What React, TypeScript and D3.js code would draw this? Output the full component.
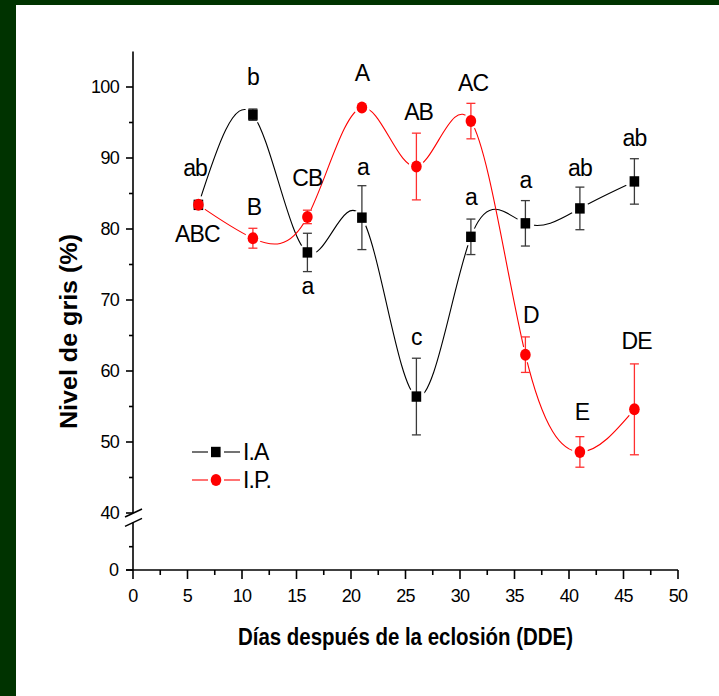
import React from 'react'
import * as d3 from 'd3'

// Días después de la eclosión
const days = [6, 11, 16, 21, 26, 31, 36, 41, 46]

// I.A (black squares)
const iaMean = [83.4, 96.1, 76.7, 81.6, 56.4, 78.9, 80.8, 82.9, 86.7]
const iaErr = [0.4, 0.8, 2.7, 4.5, 5.4, 2.5, 3.2, 3.0, 3.2]
const iaLetters = ['ab', 'b', 'a', 'a', 'c', 'a', 'a', 'ab', 'ab']
const iaLetterDay = [5.7, 11, 16, 21.1, 26, 31, 36, 41, 46]
const iaLetterVal = [88.6, 101.5, 72.0, 88.8, 64.8, 84.5, 86.9, 88.6, 92.8]

// I.P. (red circles)
const ipMean = [83.4, 78.7, 81.7, 97.1, 88.8, 95.2, 62.3, 48.6, 54.6]
const ipErr = [0.4, 1.4, 0.95, 0.3, 4.7, 2.5, 2.5, 2.15, 6.4]
const ipLetters = ['ABC', 'B', 'CB', 'A', 'AB', 'AC', 'D', 'E', 'DE']
const ipLetterDay = [5.9, 11.1, 16, 21, 26.2, 31.2, 36.5, 41.2, 46.2]
const ipLetterVal = [79.4, 83.2, 87.2, 102.0, 96.5, 100.6, 67.9, 54.2, 64.2]

const xMajor = [0, 5, 10, 15, 20, 25, 30, 35, 40, 45, 50]
const xMinor = [2.5, 7.5, 12.5, 17.5, 22.5, 27.5, 32.5, 37.5, 42.5, 47.5]
const yMajorUpper = [40, 50, 60, 70, 80, 90, 100]
const yMinorUpper = [45, 55, 65, 75, 85, 95]
const yMajorLower = [0]
const yMinorLower = [20]

const FONT = '"Liberation Sans", Arial, Helvetica, sans-serif'

const x = d3.scaleLinear().domain([0, 50]).range([133, 678])
const yUp = d3.scaleLinear().domain([40, 100]).range([513, 87])
const yLow = d3.scaleLinear().domain([0, 40]).range([570, 523.4])

const curve = d3
  .line<[number, number]>()
  .x((d) => x(d[0]))
  .y((d) => yUp(d[1]))
  .curve(d3.curveNatural)

const Series = ({ id, mean, err, color, barColor, gap, square }) => {
  const pts: [number, number][] = days.map((d, i) => [d, mean[i]])
  return (
    <g>
      <mask id={id} maskUnits="userSpaceOnUse" x={0} y={0} width={719} height={696}>
        <rect x={0} y={0} width={719} height={696} fill="#fff" />
        {pts.map((p, i) => (
          <circle key={i} cx={x(p[0])} cy={yUp(p[1])} r={gap} fill="#000" />
        ))}
      </mask>
      <path d={curve(pts) || ''} fill="none" stroke={color} strokeWidth={1.1} mask={`url(#${id})`} />
      {pts.map((p, i) => {
        const cx = x(p[0])
        const top = yUp(p[1] + err[i])
        const bot = yUp(p[1] - err[i])
        return (
          <g key={i} stroke={barColor} strokeWidth={1.3}>
            <line x1={cx} x2={cx} y1={top} y2={bot} />
            <line x1={cx - 4.5} x2={cx + 4.5} y1={top} y2={top} />
            <line x1={cx - 4.5} x2={cx + 4.5} y1={bot} y2={bot} />
          </g>
        )
      })}
      {pts.map((p, i) =>
        square ? (
          <rect key={i} x={x(p[0]) - 4.8} y={yUp(p[1]) - 5.2} width={9.6} height={10.4} fill={color} />
        ) : (
          <ellipse key={i} cx={x(p[0])} cy={yUp(p[1])} rx={5.3} ry={6} fill={color} />
        )
      )}
    </g>
  )
}

const Letters = ({ letters, dayPos, vals }) => (
  <g fontFamily={FONT} fontSize={23} textAnchor="middle" fill="#000">
    {letters.map((t, i) => (
      <text key={i} x={x(dayPos[i])} y={yUp(vals[i])} dy="0.36em" letterSpacing={-0.9}>
        {t}
      </text>
    ))}
  </g>
)

export default function App() {
  const axisX = x(0)
  return (
    <div style={{ position: 'fixed', left: 0, top: 0 }}>
      <svg width={719} height={696} style={{ display: 'block', background: '#fff' }}>
        {/* frame */}
        <rect x={0} y={0} width={16} height={696} fill="#003300" />
        <rect x={0} y={0} width={719} height={5} fill="#003300" />

        {/* y axis with break */}
        <g stroke="#000" strokeWidth={1.6}>
          <line x1={axisX} x2={axisX} y1={yUp(105)} y2={yUp(40)} />
          <line x1={axisX} x2={axisX} y1={yLow(40) - 1} y2={yLow(0)} />
          <line x1={axisX - 8} x2={axisX + 9} y1={yUp(40) + 4} y2={yUp(40) - 4} />
          <line x1={axisX - 8} x2={axisX + 9} y1={yLow(40) + 3} y2={yLow(40) - 5} />
          {yMajorUpper.map((v) => (
            <line key={v} x1={axisX - 7} x2={axisX} y1={yUp(v)} y2={yUp(v)} />
          ))}
          {yMinorUpper.map((v) => (
            <line key={v} x1={axisX - 4} x2={axisX} y1={yUp(v)} y2={yUp(v)} />
          ))}
          {yMajorLower.map((v) => (
            <line key={v} x1={axisX - 7} x2={axisX} y1={yLow(v)} y2={yLow(v)} />
          ))}
          {yMinorLower.map((v) => (
            <line key={v} x1={axisX - 4} x2={axisX} y1={yLow(v)} y2={yLow(v)} />
          ))}
        </g>
        <g fontFamily={FONT} fontSize={18} textAnchor="end" fill="#000">
          {yMajorUpper.map((v) => (
            <text key={v} x={axisX - 14} y={yUp(v)} dy="0.36em" letterSpacing={-0.7}>
              {v}
            </text>
          ))}
          {yMajorLower.map((v) => (
            <text key={v} x={axisX - 14} y={yLow(v)} dy="0.36em">
              {v}
            </text>
          ))}
        </g>

        {/* x axis */}
        <g stroke="#000" strokeWidth={1.6}>
          <line x1={x(0) - 7} x2={x(50)} y1={yLow(0)} y2={yLow(0)} />
          {xMajor.map((v) => (
            <line key={v} x1={x(v)} x2={x(v)} y1={yLow(0)} y2={yLow(0) + 9} />
          ))}
          {xMinor.map((v) => (
            <line key={v} x1={x(v)} x2={x(v)} y1={yLow(0)} y2={yLow(0) + 5} />
          ))}
        </g>
        <g fontFamily={FONT} fontSize={18} textAnchor="middle" fill="#000">
          {xMajor.map((v) => (
            <text key={v} x={x(v)} y={602} letterSpacing={-0.7}>
              {v}
            </text>
          ))}
        </g>

        {/* axis titles */}
        <text
          x={(x(0) + x(50)) / 2}
          y={645}
          fontFamily={FONT}
          fontSize={23}
          fontWeight="bold"
          textAnchor="middle"
          textLength={335}
          lengthAdjust="spacingAndGlyphs"
        >
          Días después de la eclosión (DDE)
        </text>
        <text
          transform={`translate(77, ${(233 + 430) / 2}) rotate(-90)`}
          fontFamily={FONT}
          fontSize={23}
          fontWeight="bold"
          textAnchor="middle"
          textLength={195}
          lengthAdjust="spacingAndGlyphs"
        >
          Nivel de gris (%)
        </text>

        {/* series */}
        <Series id="mia" mean={iaMean} err={iaErr} color="#000" barColor="#3a3a3a" gap={9} square />
        <Series id="mip" mean={ipMean} err={ipErr} color="#ff0000" barColor="#ff3030" gap={8} square={false} />

        <Letters letters={iaLetters} dayPos={iaLetterDay} vals={iaLetterVal} />
        <Letters letters={ipLetters} dayPos={ipLetterDay} vals={ipLetterVal} />

        {/* legend */}
        <g>
          <line x1={192} x2={208} y1={452} y2={452} stroke="#000" strokeWidth={1.1} />
          <line x1={224} x2={240} y1={452} y2={452} stroke="#000" strokeWidth={1.1} />
          <rect x={211} y={446.8} width={9.6} height={10.4} fill="#000" />
          <line x1={192} x2={208} y1={480} y2={480} stroke="#ff0000" strokeWidth={1.1} />
          <line x1={224} x2={240} y1={480} y2={480} stroke="#ff0000" strokeWidth={1.1} />
          <ellipse cx={216} cy={480} rx={5.3} ry={6} fill="#ff0000" />
          <g fontFamily={FONT} fontSize={23} fill="#000" letterSpacing={-0.9}>
            <text x={243} y={452} dy="0.36em">I.A</text>
            <text x={243} y={480} dy="0.36em">I.P.</text>
          </g>
        </g>
      </svg>
    </div>
  )
}
